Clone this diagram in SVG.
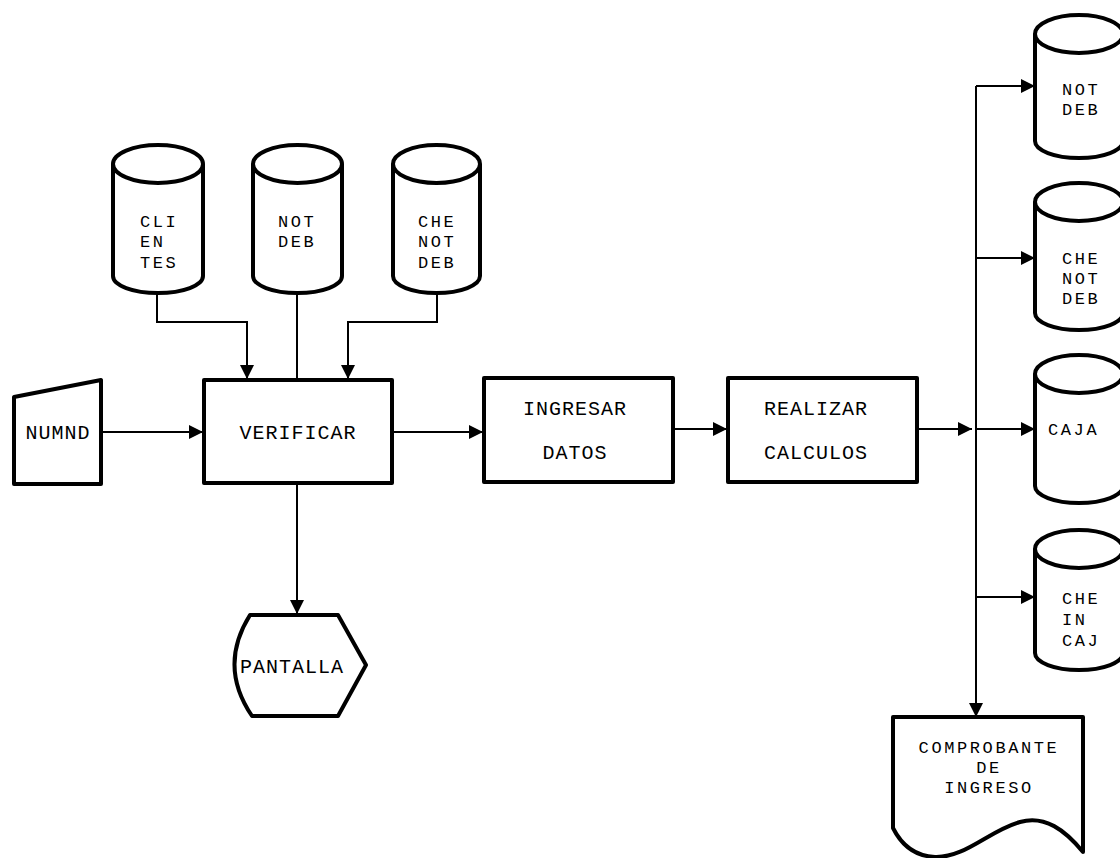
<svg xmlns="http://www.w3.org/2000/svg" width="1120" height="858" viewBox="0 0 1120 858">
<defs>
<style>
.shape{fill:#fff;stroke:#000;stroke-width:4;stroke-linejoin:round}
.conn{fill:none;stroke:#000;stroke-width:2}
.t{font-family:"Liberation Mono","DejaVu Sans Mono",monospace;font-size:20px;letter-spacing:1px;fill:#000}
.s{font-size:17px;letter-spacing:2.6px}
.m{text-anchor:middle}
</style>
<marker id="ah" viewBox="0 0 14 14" refX="14" refY="7" markerWidth="14" markerHeight="14" markerUnits="userSpaceOnUse" orient="auto">
<path d="M0,0 L14,7 L0,14 Z" fill="#000"/>
</marker>
</defs>
<rect width="1120" height="858" fill="#fff"/>
<g id="connectors">
<path class="conn" d="M102,432 H203" marker-end="url(#ah)"/>
<path class="conn" d="M157,293 V322 H247 V379" marker-end="url(#ah)"/>
<path class="conn" d="M297,293 V379"/>
<path class="conn" d="M437,293 V322 H348 V379" marker-end="url(#ah)"/>
<path class="conn" d="M392,432 H483" marker-end="url(#ah)"/>
<path class="conn" d="M673,429 H727" marker-end="url(#ah)"/>
<path class="conn" d="M917,429 H972" marker-end="url(#ah)"/>
<path class="conn" d="M297,483 V614" marker-end="url(#ah)"/>
<path class="conn" d="M976,86 V717" marker-end="url(#ah)"/>
<path class="conn" d="M976,86 H1035" marker-end="url(#ah)"/>
<path class="conn" d="M976,258 H1035" marker-end="url(#ah)"/>
<path class="conn" d="M976,429 H1035" marker-end="url(#ah)"/>
<path class="conn" d="M976,597 H1035" marker-end="url(#ah)"/>
</g>
<g id="clientes">
<path class="shape" d="M113,164 V276 A45,17 0 0 0 203,276 V164 A45,19 0 0 0 113,164 A45,19 0 0 0 203,164"/>
<text class="t s" x="140" y="227">CLI</text><text class="t s" x="140" y="247">EN</text><text class="t s" x="140" y="268">TES</text>
</g>
<g id="notdeb1">
<path class="shape" d="M253,164 V276 A44.5,17 0 0 0 342,276 V164 A44.5,19 0 0 0 253,164 A44.5,19 0 0 0 342,164"/>
<text class="t s" x="278" y="227">NOT</text><text class="t s" x="278" y="247">DEB</text>
</g>
<g id="chenotdeb1">
<path class="shape" d="M393,164 V276 A43.5,17 0 0 0 480,276 V164 A43.5,19 0 0 0 393,164 A43.5,19 0 0 0 480,164"/>
<text class="t s" x="418" y="227">CHE</text><text class="t s" x="418" y="247">NOT</text><text class="t s" x="418" y="268">DEB</text>
</g>
<g id="numnd">
<path class="shape" d="M14,397 L101,380 V484 H14 Z"/>
<text class="t m" x="58" y="439">NUMND</text>
</g>
<g id="verificar">
<rect class="shape" x="204" y="380" width="188" height="103"/>
<text class="t m" x="298" y="439">VERIFICAR</text>
</g>
<g id="ingresar">
<rect class="shape" x="484" y="378" width="189" height="104"/>
<text class="t m" x="575" y="415">INGRESAR</text><text class="t m" x="575" y="459">DATOS</text>
</g>
<g id="realizar">
<rect class="shape" x="728" y="378" width="189" height="104"/>
<text class="t m" x="816" y="415">REALIZAR</text><text class="t m" x="816" y="459">CALCULOS</text>
</g>
<g id="pantalla">
<path class="shape" d="M250,615 H338 L366,665 L338,716 H252 Q218,666 250,615 Z"/>
<text class="t m" x="292" y="673">PANTALLA</text>
</g>
<g id="notdeb2">
<path class="shape" d="M1035,34 V141 A44,17 0 0 0 1123,141 V34 A44,19 0 0 0 1035,34 A44,19 0 0 0 1123,34"/>
<text class="t s" x="1062" y="95">NOT</text><text class="t s" x="1062" y="115">DEB</text>
</g>
<g id="chenotdeb2">
<path class="shape" d="M1035,202 V313 A44,17 0 0 0 1123,313 V202 A44,19 0 0 0 1035,202 A44,19 0 0 0 1123,202"/>
<text class="t s" x="1062" y="264">CHE</text><text class="t s" x="1062" y="284">NOT</text><text class="t s" x="1062" y="304">DEB</text>
</g>
<g id="caja">
<path class="shape" d="M1035,374 V486 A44,17 0 0 0 1123,486 V374 A44,19 0 0 0 1035,374 A44,19 0 0 0 1123,374"/>
<text class="t s" x="1048" y="435">CAJA</text>
</g>
<g id="cheincaj">
<path class="shape" d="M1035,549 V653 A44,17 0 0 0 1123,653 V549 A44,19 0 0 0 1035,549 A44,19 0 0 0 1123,549"/>
<text class="t s" x="1062" y="604">CHE</text><text class="t s" x="1062" y="625">IN</text><text class="t s" x="1062" y="646">CAJ</text>
</g>
<g id="comprobante">
<path class="shape" d="M893,717 H1083 V852 C1065,830 1045,815 1020,822 C990,830 965,858 935,857 C912,856 900,842 893,828 Z"/>
<text class="t s m" x="989" y="753">COMPROBANTE</text><text class="t s m" x="989" y="773">DE</text><text class="t s m" x="989" y="793">INGRESO</text>
</g>
</svg>
